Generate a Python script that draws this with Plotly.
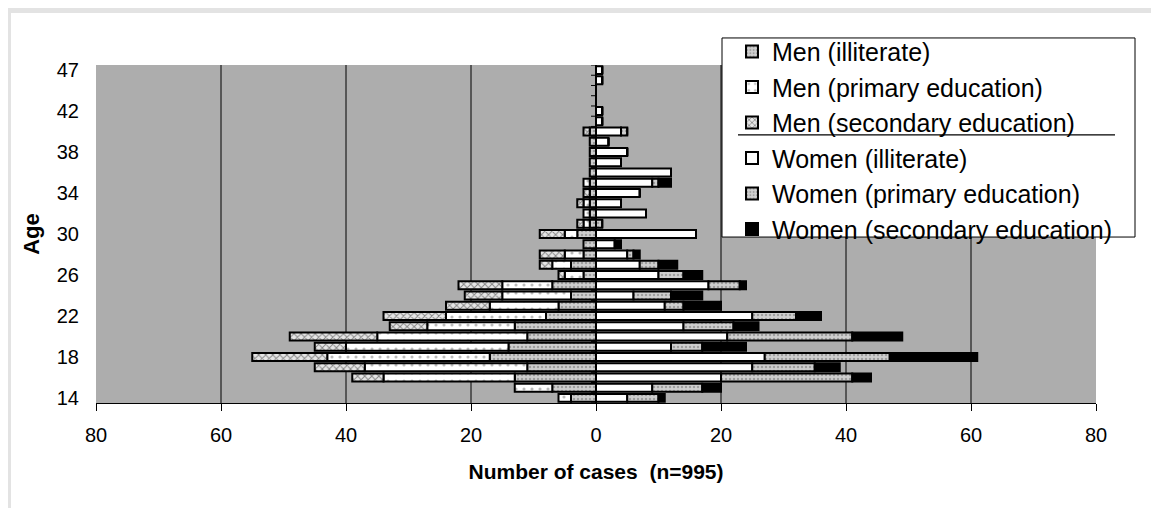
import plotly.graph_objects as go

# ---------------- data ----------------
ages = ["14", "15", "16", "17", "18", "19", "20", "21", "22", "23", "24",
        "25", "26", "27", "28", "29", "30", "31", "32", "33", "34", "35",
        "36", "37", "38", "39", "40", "41", "42", "43", "44", "45", "47"]
age_tick_labels = ["14", "18", "22", "26", "30", "34", "38", "42", "47"]

men_illiterate = [4, 7, 13, 11, 17, 14, 11, 13, 8, 6, 4, 7, 2, 4, 2, 2, 3,
                  1, 1, 1, 1, 1, 1, 1, 1, 1, 1, 0, 0, 0, 0, 0, 0]
men_primary = [2, 6, 21, 26, 26, 26, 24, 14, 16, 11, 11, 8, 3, 3, 3, 0, 2,
               1, 1, 1, 0, 1, 0, 0, 0, 0, 0, 0, 0, 0, 0, 0, 0]
men_secondary = [0, 0, 5, 8, 12, 5, 14, 6, 10, 7, 6, 7, 1, 2, 4, 0, 4,
                 1, 0, 1, 1, 0, 0, 0, 0, 0, 1, 0, 0, 0, 0, 0, 0]

women_illiterate = [5, 9, 20, 25, 27, 12, 21, 14, 25, 11, 6, 18, 10, 7, 5, 3, 16,
                    0, 8, 4, 7, 9, 12, 4, 5, 2, 4, 1, 1, 0, 0, 1, 1]
women_primary = [5, 8, 21, 10, 20, 5, 20, 8, 7, 3, 6, 5, 4, 3, 1, 0, 0,
                 1, 0, 0, 0, 1, 0, 0, 0, 0, 1, 0, 0, 0, 0, 0, 0]
women_secondary = [1, 3, 3, 4, 14, 7, 8, 4, 4, 6, 5, 1, 3, 3, 1, 1, 0,
                   0, 0, 0, 0, 2, 0, 0, 0, 0, 0, 0, 0, 0, 0, 0, 0]

x_ticks = [-80, -60, -40, -20, 0, 20, 40, 60, 80]
x_tick_text = ["80", "60", "40", "20", "0", "20", "40", "60", "80"]

FONT = "Arial, Liberation Sans, sans-serif"
OUTLINE = dict(color="black", width=2)

series = [
    ("Men (illiterate)", [-v for v in men_illiterate],
     dict(color="#cfcfcf", pattern=dict(shape=".", fgcolor="#6e6e6e", bgcolor="#cfcfcf", size=4, solidity=0.3))),
    ("Men (primary education)", [-v for v in men_primary],
     dict(color="white", pattern=dict(shape=".", fgcolor="#777777", bgcolor="white", size=8, solidity=0.12))),
    ("Men (secondary education)", [-v for v in men_secondary],
     dict(color="#e6e6e6", pattern=dict(shape="x", fgcolor="#222222", bgcolor="#e6e6e6", size=5, solidity=0.35))),
    ("Women (illiterate)", women_illiterate, dict(color="white")),
    ("Women (primary education)", women_primary,
     dict(color="#cfcfcf", pattern=dict(shape=".", fgcolor="#6e6e6e", bgcolor="#cfcfcf", size=4, solidity=0.3))),
    ("Women (secondary education)", women_secondary, dict(color="black")),
]

fig = go.Figure()
for i, (name, vals, mk) in enumerate(series):
    mk = dict(mk)
    mk["line"] = OUTLINE
    fig.add_trace(go.Bar(
        y=ages, x=vals, orientation="h", name=name, marker=mk,
    ))

shapes = []
# vertical gridlines (inner ticks)
for v in x_ticks:
    if v not in (x_ticks[0], 0, x_ticks[-1]):
        shapes.append(dict(type="line", xref="x", yref="paper", x0=v, x1=v, y0=0, y1=1,
                           line=dict(color="black", width=1), layer="below"))
# small category tick marks on the zero axis
for i in range(len(ages) + 1):
    shapes.append(dict(type="line", xref="x", yref="y", x0=-0.8, x1=0, y0=i - 0.5, y1=i - 0.5,
                       line=dict(color="black", width=1), layer="above"))
# legend box (white, black border) drawn as a shape so a separator line can sit on it
shapes.append(dict(type="rect", xref="paper", yref="paper", x0=0.626, x1=1.039, y0=0.491, y1=1.080,
                   fillcolor="white", line=dict(color="black", width=1), layer="above"))
# separator line in the legend
shapes.append(dict(type="line", xref="paper", yref="paper", x0=0.642, x1=1.019, y0=0.793, y1=0.793,
                   line=dict(color="black", width=1.2), layer="above"))
# light frame on top and left of the page
shapes.append(dict(type="rect", xref="paper", yref="paper", x0=-0.090, x1=1.063,
                   y0=1.154, y1=1.172, fillcolor="#e3e3e3", line=dict(width=0), layer="below"))
shapes.append(dict(type="rect", xref="paper", yref="paper", x0=-0.090, x1=-0.085,
                   y0=-0.32, y1=1.172, fillcolor="#e3e3e3", line=dict(width=0), layer="below"))

fig.update_layout(
    width=1159, height=508,
    margin=dict(l=88, r=71, t=57, b=113, autoexpand=False),
    paper_bgcolor="white",
    plot_bgcolor="#adadad",
    barmode="relative",
    bargap=0.22,
    font=dict(family=FONT, color="black", size=20),
    shapes=shapes,
    showlegend=True,
    legend=dict(
        x=0.636, y=1.107, xanchor="left", yanchor="top",
        bgcolor="rgba(0,0,0,0)", borderwidth=0,
        font=dict(family=FONT, size=25, color="black"),
        traceorder="normal",
    ),
    xaxis=dict(
        range=[-80, 80], tickmode="array", tickvals=x_ticks, ticktext=x_tick_text,
        showgrid=False, zeroline=True, zerolinecolor="black", zerolinewidth=1.5,
        showline=True, linecolor="black", linewidth=1,
        ticks="outside", ticklen=7, tickcolor="black",
        tickfont=dict(size=20), ticklabelstandoff=7,
        title=dict(text="<b>Number of cases  (n=995)</b>", font=dict(size=21), standoff=19),
        automargin=False, fixedrange=True,
    ),
    yaxis=dict(
        type="category", categoryorder="array", categoryarray=ages,
        range=[-0.5, len(ages) - 0.5],
        tickmode="array", tickvals=age_tick_labels,
        showgrid=False, zeroline=False, showline=False, ticks="",
        ticklabelstandoff=16,
        tickfont=dict(size=20),
        title=dict(text="<b>Age</b>", font=dict(size=22), standoff=11),
        automargin=False, fixedrange=True,
    ),
)

fig.write_html("out.html")
